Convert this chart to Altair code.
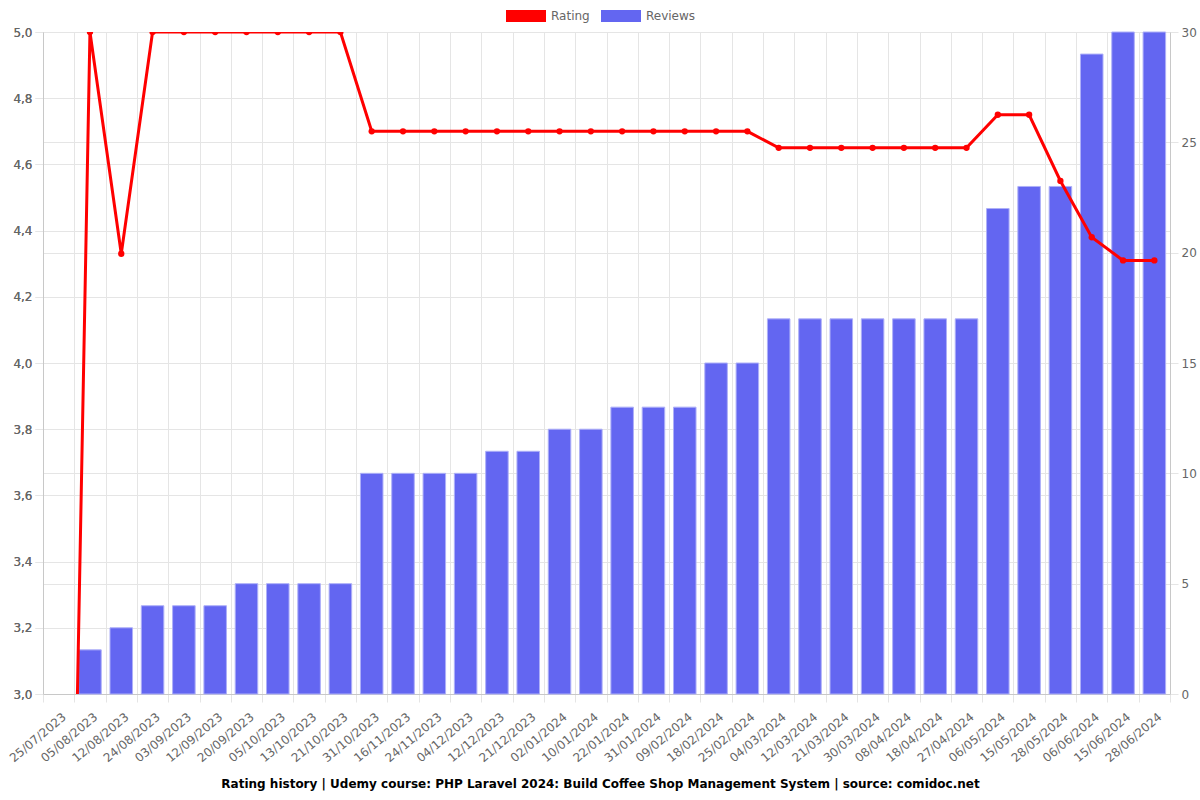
import altair as alt
import pandas as pd

dates = ["25/07/2023", "05/08/2023", "12/08/2023", "24/08/2023", "03/09/2023", "12/09/2023",
         "20/09/2023", "05/10/2023", "13/10/2023", "21/10/2023", "31/10/2023", "16/11/2023",
         "24/11/2023", "04/12/2023", "12/12/2023", "21/12/2023", "02/01/2024", "10/01/2024",
         "22/01/2024", "31/01/2024", "09/02/2024", "18/02/2024", "25/02/2024", "04/03/2024",
         "12/03/2024", "21/03/2024", "30/03/2024", "08/04/2024", "18/04/2024", "27/04/2024",
         "06/05/2024", "15/05/2024", "28/05/2024", "06/06/2024", "15/06/2024", "28/06/2024"]
rating = [0, 5.0, 4.33, 5.0, 5.0, 5.0, 5.0, 5.0, 5.0, 5.0, 4.7, 4.7,
          4.7, 4.7, 4.7, 4.7, 4.7, 4.7, 4.7, 4.7, 4.7, 4.7, 4.7, 4.65,
          4.65, 4.65, 4.65, 4.65, 4.65, 4.65, 4.75, 4.75, 4.55, 4.38, 4.31, 4.31]
reviews = [0, 2, 3, 4, 4, 4, 5, 5, 5, 5, 10, 10,
           10, 10, 11, 11, 12, 12, 13, 13, 13, 15, 15, 17,
           17, 17, 17, 17, 17, 17, 22, 23, 23, 29, 30, 30]

series_names = ["Rating", "Reviews"]
series_colors = ["#ff0000", "#6366f1"]
rating_ticks = [3.0, 3.2, 3.4, 3.6, 3.8, 4.0, 4.2, 4.4, 4.6, 4.8, 5.0]
review_ticks = [0, 5, 10, 15, 20, 25, 30]
title_text = ("Rating history | Udemy course: PHP Laravel 2024: Build Coffee Shop "
              "Management System | source: comidoc.net")

df = pd.DataFrame({"date": dates, "rating": rating, "reviews": reviews})

FONT = "DejaVu Sans"
GRID = "#e5e5e5"
DOMAIN = "#c8c8c8"
LABEL = "#666666"

x_enc = alt.X(
    "date:N", sort=dates,
    scale=alt.Scale(type="band", paddingInner=0, paddingOuter=0),
    axis=alt.Axis(title=None, labelAngle=-40, labelAlign="right", labelBaseline="top",
                  labelOffset=2, labelPadding=9, tickBand="extent", grid=True,
                  gridColor=GRID, tickColor=GRID, tickSize=8, domainColor=DOMAIN,
                  labelColor=LABEL, labelFontSize=12, labelFont=FONT, labelOverlap=False),
)

color_enc = alt.Color(
    "series:N",
    scale=alt.Scale(domain=series_names, range=series_colors),
    legend=alt.Legend(title=None, orient="none", legendX=463, legendY=-36,
                      direction="horizontal",
                      symbolType="M-1,-0.3L1,-0.3L1,0.3L-1,0.3Z", symbolSize=1600,
                      symbolStrokeWidth=0, symbolOpacity=1,
                      labelFontSize=12, labelColor=LABEL, labelFont=FONT,
                      labelOffset=5, columnPadding=11),
)

bars = alt.Chart(df).transform_filter("datum.reviews > 0").transform_calculate(
    series="'Reviews'"
).mark_bar(
    stroke="#aeb0f8", strokeWidth=1, width=alt.RelativeBandSize(0.72)
).encode(
    x=x_enc,
    y=alt.Y("reviews:Q", scale=alt.Scale(domain=[0, 30], nice=False),
            axis=alt.Axis(title=None, orient="right", values=review_ticks, grid=True,
                          gridColor=GRID, tickColor=GRID, tickSize=8, domainColor=DOMAIN,
                          labelColor=LABEL, labelFontSize=12, labelFont=FONT, labelPadding=3)),
    color=color_enc,
)

y_rating = alt.Y("rating:Q", scale=alt.Scale(domain=[3, 5], nice=False, zero=False),
                 axis=alt.Axis(title=None, orient="left", values=rating_ticks, grid=True,
                               gridColor=GRID, tickColor=GRID, tickSize=8, domainColor=DOMAIN,
                               labelColor=LABEL, labelFontSize=12, labelFont=FONT,
                               labelPadding=3,
                               labelExpr="replace(format(datum.value, '.1f'), '.', ',')"))

line = alt.Chart(df).transform_calculate(series="'Rating'").mark_line(
    strokeWidth=3, clip=True
).encode(x=x_enc, y=y_rating, color=color_enc)

points = alt.Chart(df).mark_point(
    filled=True, size=40, opacity=1, color="#ff0000", clip=True
).encode(x=x_enc, y=y_rating)

chart = alt.layer(bars, line, points).resolve_scale(y="independent").properties(
    width=1127, height=662,
    autosize=alt.AutoSizeParams(type="none"),
    padding={"left": 43, "top": 32, "right": 30, "bottom": 106},
    title=alt.TitleParams(text=title_text, orient="bottom", anchor="middle", fontSize=12,
                          font=FONT, fontWeight="bold", color="#000000", offset=15, dx=-6),
).configure_view(stroke=None).configure(background="white")

chart.save("out.html", embed_options={"renderer": "svg", "actions": False})
